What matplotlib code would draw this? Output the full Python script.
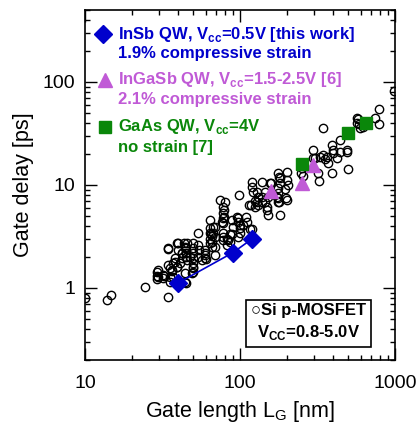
import numpy as np
import matplotlib
matplotlib.use("Agg")
import matplotlib.pyplot as plt
from matplotlib.ticker import LogLocator, NullFormatter

plt.rcParams["font.family"] = ["Liberation Sans", "DejaVu Sans"]

# Si p-MOSFET data (gate length nm, gate delay ps)
si_lg = [
    10, 13.9, 14.7, 24.4, 34.3,
    29.2, 29.2, 29.2, 31.8, 32.3, 34.3, 34.3, 35.4, 35.4, 36.4, 37, 38, 39.3, 39.3,
    41, 42.3, 43.6, 44.2, 44.2, 44.9, 45.5, 44.9, 44.9, 44.9, 47.6,
    49.8, 49.8, 49.8, 49.8, 49.8, 49.8, 49.8, 53.5, 53.5, 54.4, 59.5, 59.5,
    64.1, 64.1, 64.1, 64.1, 64.1, 66, 67, 69, 69, 69, 69,
    77.7, 77.7, 77.7, 77.7, 77.7, 77.7, 77.7, 80, 82.6, 88.9, 90.2, 97.3, 100, 100,
    74.1, 78.8, 78.8, 76.5, 88.9, 96, 97.3, 104, 109, 111, 119, 116,
    100, 97, 86, 84, 82, 86, 66, 65, 66, 67, 59.5, 59.5, 60,
    45.5, 44, 42.3, 42.3, 39.8, 39.8, 38, 37, 39.3, 34.3, 29.6, 29.6, 31.8, 35.4, 36.4,
    44.2, 49.8, 49.1, 53.5, 57, 98.8,
    201, 200, 176, 181, 181, 195, 198, 201, 204, 176, 176, 176, 179, 179, 157, 159,
    138, 119, 119, 121, 128, 130, 138, 152, 145, 149, 149, 152, 174, 176, 114, 125,
    181, 128, 118, 138, 145, 130, 125,
    246, 255, 251, 296, 343, 354, 363, 369, 397, 422, 443, 492, 343, 443, 492,
    397, 392, 324, 392, 497, 319, 306, 296, 329, 569, 578, 569, 587, 596, 625,
    740, 789, 789, 986,
]
si_delay = [
    0.8, 0.76, 0.86, 1.02, 0.82,
    1.43, 1.31, 1.22, 1.25, 1.31, 1.67, 2.4, 1.14, 1.56, 1.46, 1.28, 1.79, 2.73, 1.6,
    1.75, 2.18, 2.7, 2.5, 1.4, 1.12, 1.87, 2.45, 2.2, 2.0, 2.0,
    2.73, 2.45, 2.18, 1.95, 1.75, 1.56, 1.43, 3.4, 2.6, 2.34, 2.2, 1.95,
    2.73, 4.6, 3.8, 3.4, 3.0, 3.2, 3.9, 3.9, 3.1, 2.5, 2.1,
    3.4, 3.1, 2.9, 4.3, 4.8, 5.3, 6.1, 6.8, 3.0, 3.3, 3.9, 4.8, 4.1, 3.8,
    7.1, 5.7, 4.9, 4.4, 4.6, 4.9, 4.4, 4.1, 4.9, 4.4, 3.7, 3.7,
    3.4, 3.1, 3.3, 2.9, 2.6, 2.8, 2.8, 3.3, 2.5, 3.4, 2.34, 2.1, 1.9,
    2.7, 2.45, 2.2, 1.95, 2.7, 2.34, 1.95, 1.75, 1.6, 2.45, 1.5, 1.28, 1.33, 1.28, 1.5,
    1.14, 1.6, 1.4, 2.0, 1.87, 8.0,
    13.4, 11.2, 13.1, 11.7, 10.4, 9.1, 7.5, 7.1, 10.0, 9.3, 8.3, 7.5, 6.9, 12.0, 10.4, 10.4,
    10.7, 10.7, 9.5, 8.5, 8.5, 7.6, 7.6, 7.6, 6.8, 6.1, 5.7, 5.1, 7.6, 6.8, 6.4, 6.1,
    5.1, 6.8, 6.4, 6.8, 8.5, 6.4, 7.0,
    13.1, 12.3, 14.6, 18.3, 19.5, 17.9, 18.7, 16.3, 20.4, 18.3, 20.9, 20.9, 35.8, 27.4, 21.8,
    21.8, 24.5, 10.9, 13.1, 14.3, 13.1, 18.3, 21.8, 18.7, 44.7, 43.7, 40, 39, 35.8, 36.5,
    44.7, 54.7, 39, 81.6,
]

insb_lg = [40, 90, 120]
insb_delay = [1.12, 2.2, 3.0]

ingasb_lg = [158, 251, 296]
ingasb_delay = [8.7, 10.4, 15.6]

gaas_lg = [251, 498, 650]
gaas_delay = [16, 32, 40]

blue = "#0000cc"
purple = "#c05ad6"
green = "#0a870a"

fig = plt.figure(figsize=(4.17, 4.30), dpi=100)
ax = fig.add_axes([0.204, 0.163, 0.743, 0.814])

ax.plot(si_lg, si_delay, "o", mfc="none", mec="black", mew=1.0, ms=6, zorder=2)
ax.plot(insb_lg, insb_delay, "-", color=blue, lw=1.2, zorder=3)
ax.plot(insb_lg, insb_delay, "D", color=blue, ms=9.5, zorder=4)
ax.plot(ingasb_lg, ingasb_delay, "^", color=purple, ms=10, zorder=4)
ax.plot(gaas_lg, gaas_delay, "s", color=green, ms=9, zorder=4)

ax.set_xscale("log")
ax.set_yscale("log")
ax.set_xlim(10, 1000)
ax.set_ylim(0.2, 500)
ax.set_xticks([10, 100, 1000])
ax.set_xticklabels(["10", "100", "1000"])
ax.set_yticks([1, 10, 100])
ax.set_yticklabels(["1", "10", "100"])
ax.xaxis.set_minor_locator(LogLocator(base=10, subs=np.arange(2, 10)))
ax.yaxis.set_minor_locator(LogLocator(base=10, subs=np.arange(2, 10)))
ax.xaxis.set_minor_formatter(NullFormatter())
ax.yaxis.set_minor_formatter(NullFormatter())
ax.tick_params(which="both", direction="in", top=True, right=True, labelsize=14, width=1)
ax.tick_params(which="major", length=8.5, pad=7)
ax.tick_params(axis="x", which="major", pad=11)
ax.tick_params(which="minor", length=3.8)
for s in ax.spines.values():
    s.set_linewidth(1.2)

ax.set_xlabel("Gate length L$_\\mathregular{G}$ [nm]", fontsize=15.5, labelpad=5)
ax.set_ylabel("Gate delay [ps]", fontsize=15.5, labelpad=6)

# legend-like annotations
fs = 12
tx = 0.106
ax.plot([0.058], [0.931], "D", color=blue, ms=9.5, transform=ax.transAxes, clip_on=False)
ax.text(tx, 0.931, "InSb QW, V$_\\mathregular{cc}$=0.5V [this work]", color=blue,
        fontsize=fs, fontweight="bold", transform=ax.transAxes, va="center")
ax.text(tx, 0.874, "1.9% compressive strain", color=blue,
        fontsize=fs, fontweight="bold", transform=ax.transAxes, va="center")
ax.plot([0.065], [0.8], "^", color=purple, ms=10, transform=ax.transAxes, clip_on=False)
ax.text(tx, 0.8, "InGaSb QW, V$_\\mathregular{cc}$=1.5-2.5V [6]", color=purple,
        fontsize=fs, fontweight="bold", transform=ax.transAxes, va="center")
ax.text(tx, 0.743, "2.1% compressive strain", color=purple,
        fontsize=fs, fontweight="bold", transform=ax.transAxes, va="center")
ax.plot([0.065], [0.666], "s", color=green, ms=9, transform=ax.transAxes, clip_on=False)
ax.text(tx, 0.666, "GaAs QW, V$_\\mathregular{cc}$=4V", color=green,
        fontsize=fs, fontweight="bold", transform=ax.transAxes, va="center")
ax.text(tx, 0.606, "no strain [7]", color=green,
        fontsize=fs, fontweight="bold", transform=ax.transAxes, va="center")

ax.text(0.72, 0.106, "\u25cbSi p-MOSFET\nV$_\\mathregular{CC}$=0.8-5.0V", ha="center", va="center",
        fontsize=fs, fontweight="bold", transform=ax.transAxes, linespacing=1.35,
        bbox=dict(boxstyle="square,pad=0.3", fc="white", ec="black", lw=1.2))

fig.savefig("out.png", dpi=100)
